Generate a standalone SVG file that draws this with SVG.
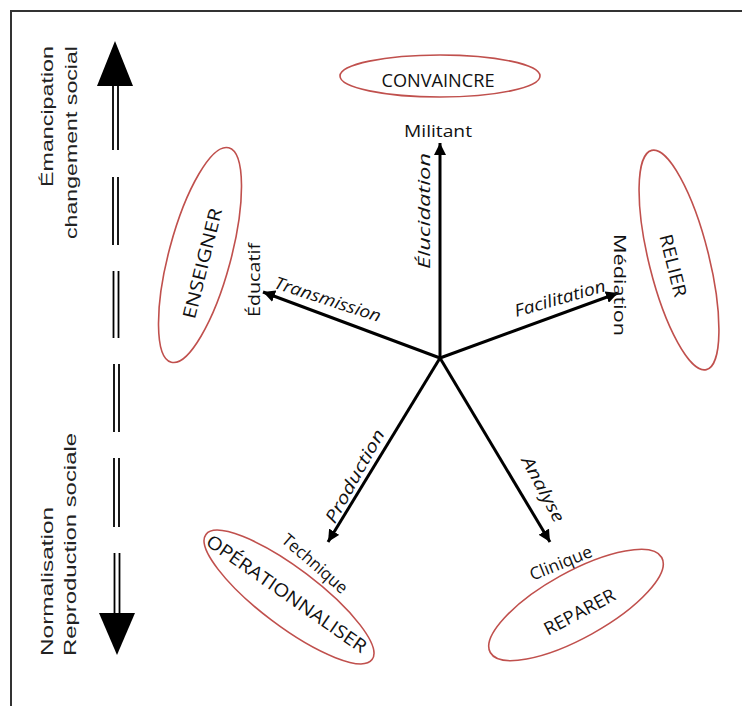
<svg xmlns="http://www.w3.org/2000/svg" width="742" height="706" viewBox="0 0 742 706">
<defs>
<marker id="ah" markerUnits="userSpaceOnUse" markerWidth="14" markerHeight="12" refX="12" refY="6" orient="auto">
<path d="M0,0 L12,6 L0,12 Z" fill="#000"/>
</marker>
<style>
.el{fill:none;stroke:#c0504d;stroke-width:1.6}
.t{font-family:"Open Sans","Liberation Sans",sans-serif;fill:#111;text-anchor:middle;font-weight:500}
.i{font-style:italic}
.side{font-family:"Liberation Sans",Arial,sans-serif;fill:#222;font-size:17px}
.ar{stroke:#000;stroke-width:3;fill:none}
.dl{stroke:#000;stroke-width:1.8}
</style>
</defs>
<rect width="742" height="706" fill="#fff"/>
<g id="frame" stroke="#333" stroke-width="2">
<line x1="10" y1="11" x2="742" y2="11"/>
<line x1="11" y1="10" x2="11" y2="706"/>
</g>
<g id="axis">
<path d="M115,41 L133,86 L97,86 Z" fill="#000"/>
<path d="M117,655 L135,613 L99,613 Z" fill="#000"/>
<g class="dl">
<line x1="113" y1="86" x2="113" y2="150"/><line x1="118" y1="86" x2="118" y2="150"/>
<line x1="113" y1="177" x2="113" y2="245"/><line x1="118" y1="177" x2="118" y2="245"/>
<line x1="113.5" y1="271" x2="113.5" y2="338"/><line x1="118.5" y1="271" x2="118.5" y2="338"/>
<line x1="114" y1="364" x2="114" y2="432"/><line x1="119" y1="364" x2="119" y2="432"/>
<line x1="114" y1="458" x2="114" y2="527"/><line x1="119" y1="458" x2="119" y2="527"/>
<line x1="114.5" y1="553" x2="114.5" y2="613"/><line x1="119.5" y1="553" x2="119.5" y2="613"/>
</g>
<text class="side" transform="translate(53,46) rotate(-90)" text-anchor="end" textLength="141" lengthAdjust="spacingAndGlyphs">Émancipation</text>
<text class="side" transform="translate(77,46) rotate(-90)" text-anchor="end" textLength="193" lengthAdjust="spacingAndGlyphs">changement social</text>
<text class="side" transform="translate(53,656) rotate(-90)" text-anchor="start" textLength="149" lengthAdjust="spacingAndGlyphs">Normalisation</text>
<text class="side" transform="translate(76,656) rotate(-90)" text-anchor="start" textLength="223" lengthAdjust="spacingAndGlyphs">Reproduction sociale</text>
</g>
<g id="connectors">
<line class="ar" x1="440" y1="358" x2="440" y2="143" marker-end="url(#ah)"/>
<line class="ar" x1="440" y1="358" x2="263" y2="292" marker-end="url(#ah)"/>
<line class="ar" x1="440" y1="358" x2="618" y2="293" marker-end="url(#ah)"/>
<line class="ar" x1="440" y1="358" x2="328" y2="542" marker-end="url(#ah)"/>
<line class="ar" x1="440" y1="358" x2="550" y2="542" marker-end="url(#ah)"/>
<text class="t i" font-size="17" transform="translate(430,211) rotate(-90)" textLength="116" lengthAdjust="spacingAndGlyphs">Élucidation</text>
<text class="t i" font-size="17" transform="translate(326,305) rotate(18)" textLength="111" lengthAdjust="spacingAndGlyphs">Transmission</text>
<text class="t i" font-size="17" transform="translate(561.5,304) rotate(-16)" textLength="94" lengthAdjust="spacingAndGlyphs">Facilitation</text>
<text class="t i" font-size="17" transform="translate(360,479) rotate(-61)" textLength="104" lengthAdjust="spacingAndGlyphs">Production</text>
<text class="t i" font-size="17" transform="translate(538,492) rotate(62)" textLength="72" lengthAdjust="spacingAndGlyphs">Analyse</text>
</g>
<g id="convaincre">
<ellipse class="el" cx="440" cy="76" rx="100" ry="21"/>
<text class="t" font-size="19" fill="#333" transform="translate(438,87)" textLength="113" lengthAdjust="spacingAndGlyphs">CONVAINCRE</text>
<text class="t" font-size="17" transform="translate(438,136.5)" textLength="68" lengthAdjust="spacingAndGlyphs">Militant</text>
</g>
<g id="enseigner">
<ellipse class="el" cx="200" cy="255" rx="31" ry="111" transform="rotate(15 200 255)"/>
<text class="t" font-size="18" transform="translate(208.5,265) rotate(-76)" textLength="113" lengthAdjust="spacingAndGlyphs">ENSEIGNER</text>
<text class="t" font-size="17" transform="translate(260,280) rotate(-90)" textLength="74" lengthAdjust="spacingAndGlyphs">Éducatif</text>
</g>
<g id="relier">
<ellipse class="el" cx="679" cy="260" rx="30" ry="113" transform="rotate(-14 679 260)"/>
<text class="t" font-size="18" transform="translate(667,267) rotate(76)" textLength="64" lengthAdjust="spacingAndGlyphs">RELIER</text>
<text class="t" font-size="17" transform="translate(614,285) rotate(90)" textLength="102" lengthAdjust="spacingAndGlyphs">Médiation</text>
</g>
<g id="operationnaliser">
<ellipse class="el" cx="289" cy="597" rx="104" ry="29" transform="rotate(37 289 597)"/>
<text class="t" font-size="18" transform="translate(283,599) rotate(35)" textLength="191" lengthAdjust="spacingAndGlyphs">OPÉRATIONNALISER</text>
<text class="t" font-size="17" transform="translate(311,568) rotate(41)" textLength="81" lengthAdjust="spacingAndGlyphs">Technique</text>
</g>
<g id="reparer">
<ellipse class="el" cx="576" cy="605" rx="98" ry="33" transform="rotate(-29 576 605)"/>
<text class="t" font-size="18" transform="translate(582.5,617.5) rotate(-28)" textLength="78" lengthAdjust="spacingAndGlyphs">REPARER</text>
<text class="t" font-size="17" transform="translate(563,568.5) rotate(-22)" textLength="66" lengthAdjust="spacingAndGlyphs">Clinique</text>
</g>
</svg>
